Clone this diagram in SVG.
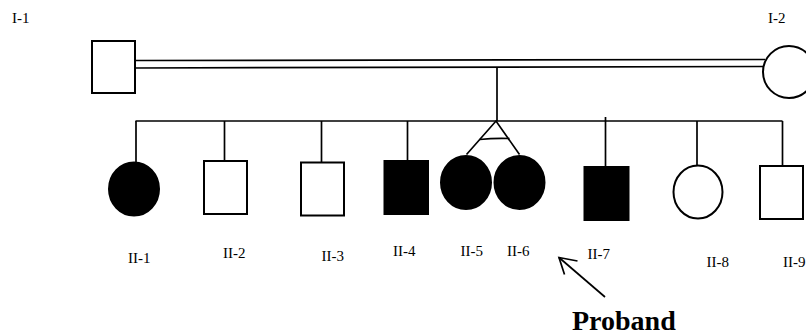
<svg xmlns="http://www.w3.org/2000/svg" width="806" height="336" viewBox="0 0 806 336">
  <style>
    .line { stroke: #000; stroke-width: 1.7; fill: none; }
    .open { fill: #fff; stroke: #000; stroke-width: 2; }
    .affected { fill: #000; stroke: #000; stroke-width: 2; }
    .label { font-family: "Liberation Serif", "Times New Roman", serif; font-size: 15px; fill: #000; }
    .title { font-family: "Liberation Serif", "Times New Roman", serif; font-size: 28px; font-weight: bold; fill: #000; }
  </style>

  <!-- connectors: marriage, sibship, descent and twin lines -->
  <g id="connectors">
    <line class="line" x1="135" y1="60.5" x2="765" y2="59.5"/>
    <line class="line" x1="135" y1="68" x2="765" y2="66.5"/>
    <line class="line" x1="497" y1="67" x2="497" y2="121"/>
    <line class="line" x1="135.5" y1="121" x2="782.5" y2="121"/>
    <line class="line" x1="136" y1="121" x2="136" y2="163"/>
    <line class="line" x1="224.5" y1="121" x2="224.5" y2="161"/>
    <line class="line" x1="321.5" y1="121" x2="321.5" y2="162"/>
    <line class="line" x1="407.5" y1="121" x2="407.5" y2="161"/>
    <line class="line" x1="605.5" y1="117" x2="605.5" y2="167"/>
    <line class="line" x1="697" y1="121" x2="697" y2="165"/>
    <line class="line" x1="782.5" y1="121" x2="782.5" y2="166"/>
    <!-- twin fork and monozygotic bar -->
    <polyline class="line" points="466.5,154.5 496,121 519.5,154.5"/>
    <path class="line" d="M479.5,139.5 Q494,138 509.5,138.5"/>
    <!-- proband arrow -->
    <line class="line" x1="605" y1="297" x2="559" y2="257.5"/>
    <polyline class="line" points="577.5,261 559,257.5 564.5,274.5"/>
  </g>

  <!-- generation I -->
  <g id="I-1">
    <rect class="open" x="92" y="41" width="43" height="52"/>
    <text class="label" x="12" y="22.5">I-1</text>
  </g>
  <g id="I-2">
    <ellipse class="open" cx="789" cy="72" rx="26" ry="26"/>
    <text class="label" x="768" y="22.5">I-2</text>
  </g>

  <!-- generation II -->
  <g id="II-1">
    <ellipse class="affected" cx="134" cy="189" rx="25" ry="26.5"/>
    <text class="label" x="128" y="262.5">II-1</text>
  </g>
  <g id="II-2">
    <rect class="open" x="204" y="161" width="43" height="53"/>
    <text class="label" x="223" y="258">II-2</text>
  </g>
  <g id="II-3">
    <rect class="open" x="301" y="162.5" width="43" height="53"/>
    <text class="label" x="321.5" y="260.5">II-3</text>
  </g>
  <g id="II-4">
    <rect class="affected" x="384.5" y="161" width="43.5" height="53"/>
    <text class="label" x="393" y="255.5">II-4</text>
  </g>
  <g id="II-5">
    <ellipse class="affected" cx="466" cy="182.5" rx="25" ry="26.5"/>
    <text class="label" x="460.5" y="255.5">II-5</text>
  </g>
  <g id="II-6">
    <ellipse class="affected" cx="519.5" cy="182.5" rx="25" ry="26.5"/>
    <text class="label" x="507" y="255.5">II-6</text>
  </g>
  <g id="II-7">
    <rect class="affected" x="584.5" y="167" width="44" height="53"/>
    <text class="label" x="587.5" y="259">II-7</text>
  </g>
  <g id="II-8">
    <ellipse class="open" cx="698" cy="192" rx="24.5" ry="26.5"/>
    <text class="label" x="706.5" y="266.5">II-8</text>
  </g>
  <g id="II-9">
    <rect class="open" x="760" y="166" width="43" height="53"/>
    <text class="label" x="783" y="266.5">II-9</text>
  </g>

  <text class="title" x="572" y="329.5">Proband</text>
</svg>
